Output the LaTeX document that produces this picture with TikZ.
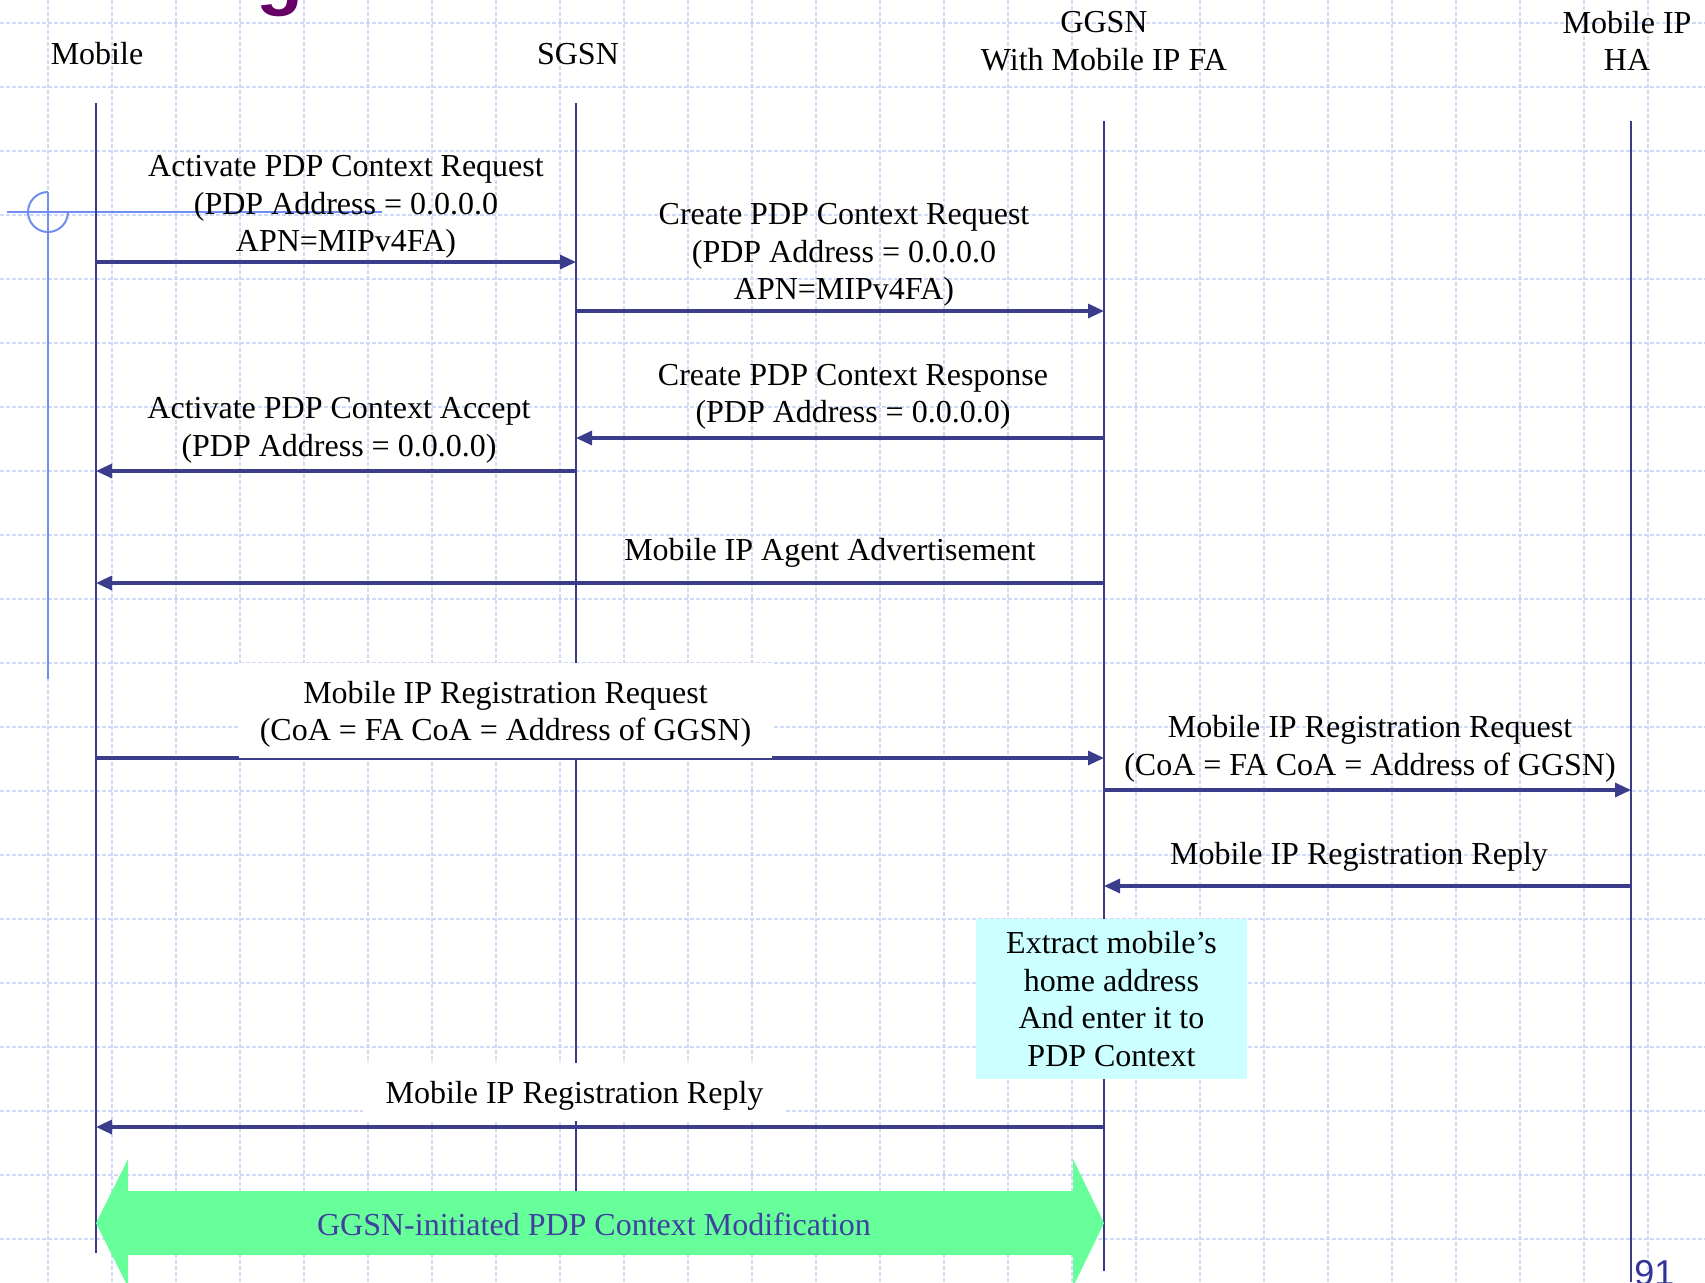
\documentclass[tikz,border=0pt]{standalone}
\usepackage{fontspec}
\setmainfont{Liberation Serif}
\newfontfamily\headfont{Liberation Sans}
\usetikzlibrary{arrows.meta}

\definecolor{lifeblue}{RGB}{60,60,140}
\definecolor{gridblue}{RGB}{208,218,248}
\definecolor{crossblue}{RGB}{112,142,240}
\definecolor{notecyan}{RGB}{204,255,255}
\definecolor{bandgreen}{RGB}{102,255,153}
\definecolor{bandtext}{RGB}{64,64,160}
\definecolor{titlepurple}{RGB}{102,0,102}
\definecolor{pagenum}{RGB}{51,51,153}

\begin{document}
\begin{tikzpicture}[x=0.5pt,y=-0.5pt,
    txt/.style={font=\fontsize{16}{18.8}\selectfont, align=center, inner sep=0pt},
    life/.style={draw=lifeblue, line width=1.3pt},
    msg/.style={draw=lifeblue, line width=1.6pt, -{Triangle[length=8pt,width=7pt]}},
    gridline/.style={draw=gridblue, line width=0.7pt, dash pattern=on 2pt off 1pt},
    cross/.style={draw=crossblue, line width=1pt}]
    		\newcommand{\xmob}{96}
    		\newcommand{\xsgsn}{576}
    		\newcommand{\xggsn}{1104}
    		\newcommand{\xha}{1631}

    		\useasboundingbox (0,0) rectangle (1705,1282);
    		\clip (0,0) rectangle (1705,1282);
    		\fill[white] (0,0) rectangle (1705,1282);

    		% background grid
    		\foreach \gx in {0,...,25} \draw[gridline] (48+64*\gx,0) -- (48+64*\gx,1282);
    		\foreach \gy in {0,...,19} \draw[gridline] (0,23+64*\gy) -- (1705,23+64*\gy);

    		% cross mark
    		\draw[cross] (7,212) -- (382,212);
    		\draw[cross] (48,192) -- (48,679);
    		\draw[cross] (48,192) arc[start angle=90, end angle=360, radius=10pt];

    		% title (cut off) and page number
    		\node[anchor=base west, inner sep=0pt, text=titlepurple,
    		      font=\headfont\bfseries\fontsize{38.5}{40}\selectfont] (title) at (187.5,0.5) {Fig. 2.21};
    		\node[anchor=base west, inner sep=0pt, text=pagenum,
    		      font=\headfont\fontsize{18}{20}\selectfont] (page) at (1634,1285) {91};

    		% entities
    		\node[txt] (mobile) at (97,54) {Mobile};
    		\node[txt] (sgsn) at (578,54) {SGSN};
    		\node[txt] (ggsn) at (1104,41) {GGSN\\With Mobile IP FA};
    		\node[txt] (ha) at (1627,41) {Mobile IP\\HA};

    		% lifelines
    		\coordinate (mobtop) at (\xmob,103);   \coordinate (mobend) at (\xmob,1253);
    		\coordinate (sgsntop) at (\xsgsn,103); \coordinate (sgsnend) at (\xsgsn,1230);
    		\coordinate (ggsntop) at (\xggsn,121); \coordinate (ggsnend) at (\xggsn,1271);
    		\coordinate (hatop) at (\xha,121);     \coordinate (haend) at (\xha,1282);
    		\draw[life] (mobtop) -- (mobend);
    		\draw[life] (sgsntop) -- (sgsnend);
    		\draw[life] (ggsntop) -- (ggsnend);
    		\draw[life] (hatop) -- (haend);

    		% message heights
    		\coordinate (m1) at (0,262);  \coordinate (m2) at (0,311);
    		\coordinate (m3) at (0,438);  \coordinate (m4) at (0,471);
    		\coordinate (m5) at (0,583);  \coordinate (m6) at (0,758);
    		\coordinate (m7) at (0,790);  \coordinate (m8) at (0,886);
    		\coordinate (m9) at (0,1127);

    		% pdp context activation
    		\draw[msg] (mobtop |- m1) -- (sgsntop |- m1);
    		\node[txt] (actreq) at (346,207) {Activate PDP Context Request\\(PDP Address = 0.0.0.0\\APN=MIPv4FA)};
    		\draw[msg] (sgsntop |- m2) -- (ggsntop |- m2);
    		\node[txt] (crtreq) at (844,255) {Create PDP Context Request\\(PDP Address = 0.0.0.0\\APN=MIPv4FA)};
    		\draw[msg] (ggsntop |- m3) -- (sgsntop |- m3);
    		\node[txt] (crtresp) at (853,397) {Create PDP Context Response\\(PDP Address = 0.0.0.0)};
    		\draw[msg] (sgsntop |- m4) -- (mobtop |- m4);
    		\node[txt] (actacc) at (339,430) {Activate PDP Context Accept\\(PDP Address = 0.0.0.0)};

    		% mobile ip registration
    		\draw[msg] (ggsntop |- m5) -- (mobtop |- m5);
    		\node[txt] (adv) at (830,553) {Mobile IP Agent Advertisement};
    		\draw[msg] (mobtop |- m6) -- (ggsntop |- m6);
    		\node[txt, fill=white, minimum width=266.5pt, minimum height=47.5pt] (regreq) at (505.5,710.5)
    		      {\rule{0pt}{15pt}Mobile IP Registration Request\\(CoA = FA CoA = Address of GGSN)};
    		\draw[msg] (ggsntop |- m7) -- (hatop |- m7);
    		\node[txt] (regreqha) at (1370,749) {Mobile IP Registration Request\\(CoA = FA CoA = Address of GGSN)};
    		\draw[msg] (hatop |- m8) -- (ggsntop |- m8);
    		\node[txt] (regrepha) at (1359,857) {Mobile IP Registration Reply};
    		\node[txt, fill=notecyan, minimum width=135.5pt, minimum height=80pt] (extract) at (1111.5,999)
    		      {Extract mobile's\\home address\\And enter it to\\PDP Context};
    		\draw[msg] (ggsntop |- m9) -- (mobtop |- m9);
    		\node[txt, fill=white, minimum width=211.5pt, minimum height=29pt] (regrep) at (574.5,1092)
    		      {\rule{0pt}{15pt}Mobile IP Registration Reply};

    		% modification band
    		\fill[bandgreen] (96,1223) -- (128,1159) -- (128,1191) -- (1073,1191) -- (1073,1159)
    		      -- (1104,1223) -- (1073,1287) -- (1073,1255) -- (128,1255) -- (128,1287) -- cycle;
    		\node[txt, text=bandtext] (modif) at (594,1224) {GGSN-initiated PDP Context Modification};

\end{tikzpicture}
\end{document}
